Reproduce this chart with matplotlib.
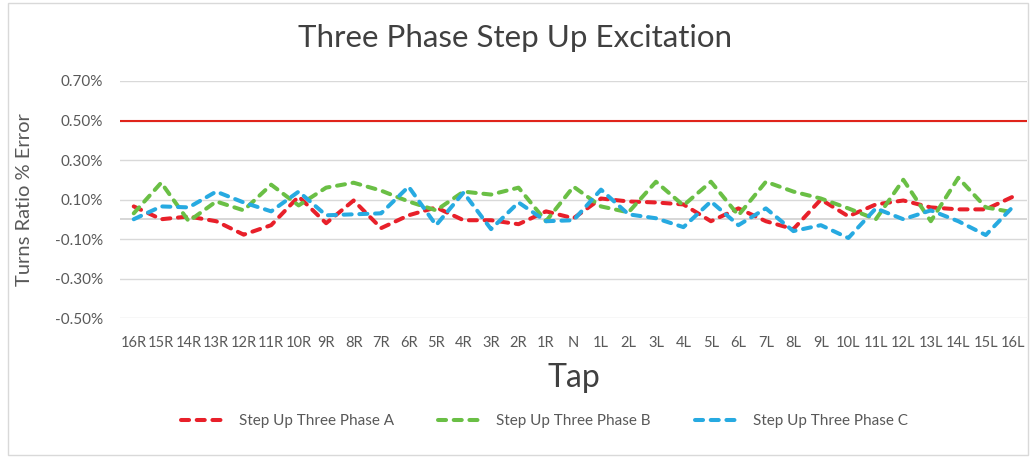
import numpy as np
import matplotlib.pyplot as plt
from matplotlib.patches import Rectangle
from matplotlib.ticker import FuncFormatter

plt.rcParams['font.family'] = ['Lato', 'DejaVu Sans']

taps = [f'{i}R' for i in range(16, 0, -1)] + ['N'] + [f'{i}L' for i in range(1, 17)]

# turns ratio error in %
phase_a = [0.065, 0.0, 0.014, -0.01, -0.078, -0.03, 0.115, -0.02, 0.095, -0.045, 0.02,
           0.06, -0.005, -0.005, -0.025, 0.04, 0.005,
           0.105, 0.09, 0.085, 0.075, -0.01, 0.055, -0.01, -0.05, 0.1, 0.015,
           0.075, 0.095, 0.06, 0.05, 0.05, 0.115]
phase_b = [0.03, 0.185, -0.01, 0.09, 0.045, 0.175, 0.07, 0.16, 0.185, 0.145, 0.09,
           0.045, 0.14, 0.125, 0.16, -0.01, 0.165,
           0.065, 0.035, 0.19, 0.07, 0.19, 0.02, 0.19, 0.14, 0.105, 0.055,
           0.0, 0.2, -0.01, 0.21, 0.06, 0.035]
phase_c = [0.0, 0.065, 0.06, 0.14, 0.085, 0.04, 0.14, 0.02, 0.025, 0.03, 0.165,
           -0.03, 0.135, -0.05, 0.085, -0.01, -0.005,
           0.15, 0.025, 0.005, -0.04, 0.09, -0.03, 0.055, -0.06, -0.03, -0.095,
           0.055, 0.0, 0.045, -0.01, -0.08, 0.065]
limit = 0.5

fig = plt.figure(figsize=(10.31, 4.57), dpi=100)
ax = fig.add_axes([120/1031, 1 - 318/457, 907/1031, 237/457])

x = np.arange(len(taps))
ax.axhline(limit, color='#e0241b', lw=1.5, zorder=3)
ax.axhline(0, color='#d0d0d0', lw=1.2, zorder=1)

style = dict(lw=2.9, dashes=(2.0, 1.9), dash_capstyle='round', zorder=4)
ax.plot(x, phase_a, color='#e8202a', label='Step Up Three Phase A', **style)
ax.plot(x, phase_b, color='#6abf45', label='Step Up Three Phase B', **style)
ax.plot(x, phase_c, color='#27aae1', label='Step Up Three Phase C', **style)

ax.set_xlim(-0.5, len(taps) - 0.5)
ax.set_ylim(-0.5, 0.7)
ax.set_yticks(np.arange(-0.5, 0.71, 0.2))
ax.yaxis.set_major_formatter(FuncFormatter(lambda v, p: f'{v:.2f}%'))
ax.set_xticks(x)
ax.set_xticklabels(taps)
ax.grid(axis='y', color='#d9d9d9', lw=1)
ax.set_axisbelow(True)
for s in ax.spines.values():
    s.set_visible(False)
ax.tick_params(axis='both', length=0, labelsize=11, colors='#595959', pad=12)
ax.tick_params(axis='x', pad=13)
for t in ax.get_xticklabels():
    t.set_fontsize(10.5)

ax.set_ylabel('Turns Ratio % Error', fontsize=14.5, color='#595959', labelpad=16)
ax.set_xlabel('Tap', fontsize=23, color='#404040', labelpad=9)
fig.text(0.5, 1 - 38/457, 'Three Phase Step Up Excitation', ha='center', va='center',
         fontsize=22.5, color='#404040')

fig.legend(loc='center', bbox_to_anchor=(0.528, 1 - 421/457), ncol=3, frameon=False,
           fontsize=11, handlelength=3, handletextpad=0.8, columnspacing=2.9,
           labelcolor='#595959')

fig.patches.append(Rectangle((8/1031, 2/457), 1020/1031, 452/457, transform=fig.transFigure,
                             fill=False, edgecolor='#d9d9d9', lw=1))

fig.savefig('out.png', dpi=100)
